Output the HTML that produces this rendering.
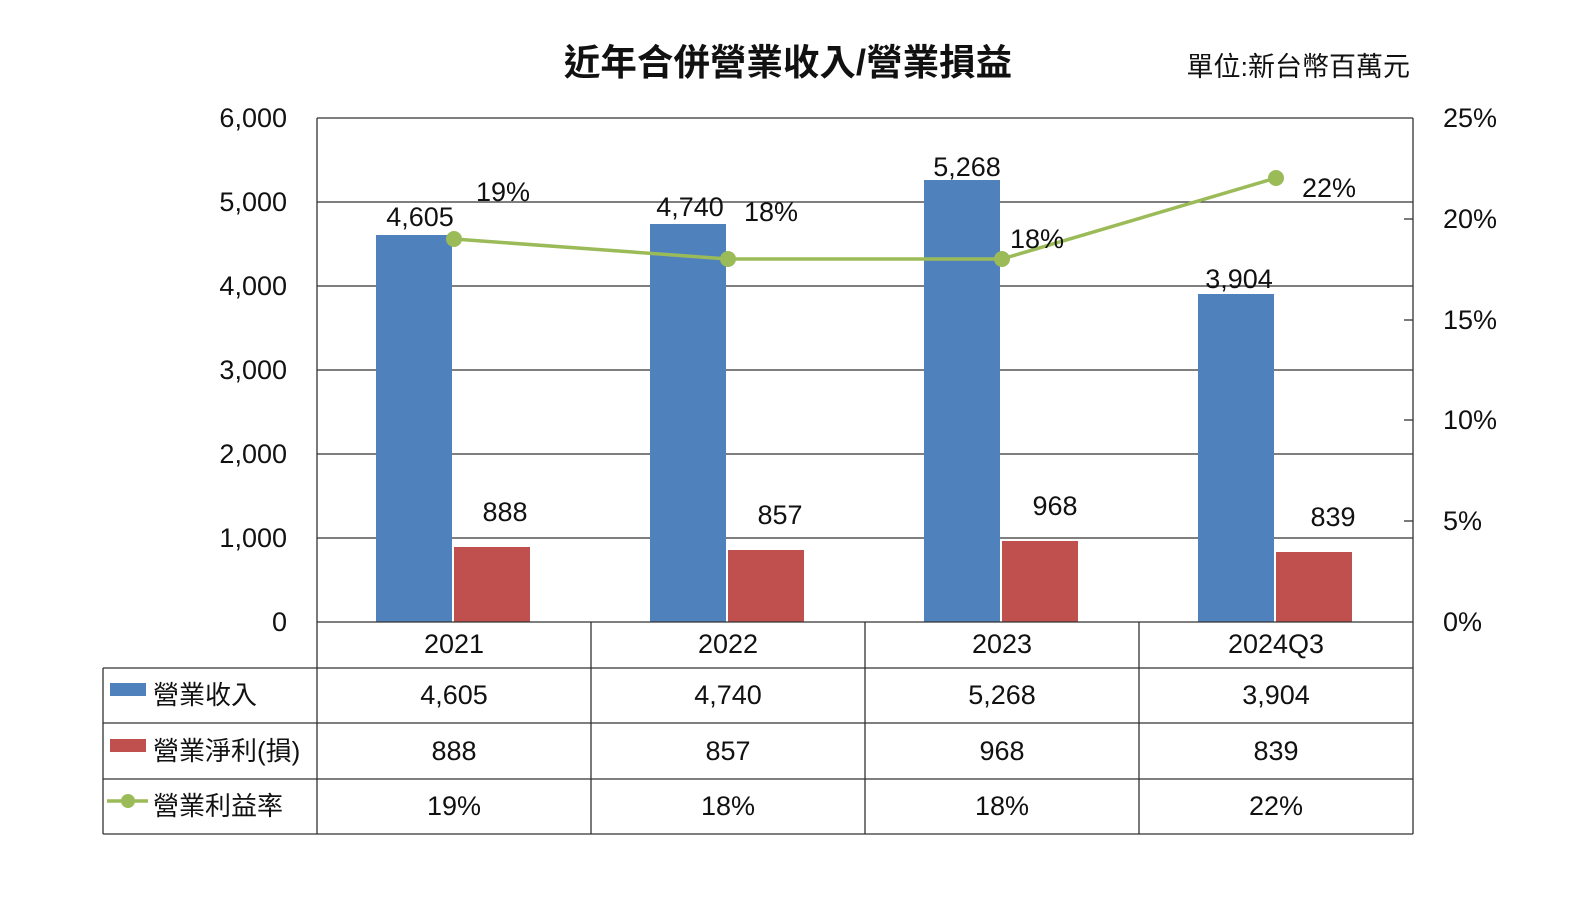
<!DOCTYPE html>
<html><head><meta charset="utf-8"><style>
body{margin:0;background:#fff;}
svg text{font-family:"Liberation Sans","Noto Sans CJK TC",sans-serif;fill:#111;}
</style></head><body>
<svg width="1587" height="907" viewBox="0 0 1587 907" xmlns="http://www.w3.org/2000/svg">
<text x="788" y="75" font-size="36.5" font-weight="bold" text-anchor="middle">近年合併營業收入/營業損益</text>
<text x="1410" y="76" font-size="27" text-anchor="end">單位:新台幣百萬元</text>
<g stroke="#333" stroke-width="1.3">
<line x1="317" y1="118" x2="1413" y2="118"/>
<line x1="317" y1="202" x2="1413" y2="202"/>
<line x1="317" y1="286" x2="1413" y2="286"/>
<line x1="317" y1="370" x2="1413" y2="370"/>
<line x1="317" y1="454" x2="1413" y2="454"/>
<line x1="317" y1="538" x2="1413" y2="538"/>
<line x1="317" y1="118" x2="317" y2="834"/>
<line x1="1413" y1="118" x2="1413" y2="834"/>
<line x1="1404" y1="219" x2="1413" y2="219"/>
<line x1="1404" y1="320" x2="1413" y2="320"/>
<line x1="1404" y1="420" x2="1413" y2="420"/>
<line x1="1404" y1="521" x2="1413" y2="521"/>
</g>
<g font-size="27" text-anchor="end">
<text x="287" y="127">6,000</text><text x="287" y="211">5,000</text><text x="287" y="295">4,000</text>
<text x="287" y="379">3,000</text><text x="287" y="463">2,000</text><text x="287" y="547">1,000</text><text x="287" y="631">0</text>
</g>
<g font-size="27">
<text x="1443" y="127">25%</text><text x="1443" y="228">20%</text><text x="1443" y="329">15%</text>
<text x="1443" y="429">10%</text><text x="1443" y="530">5%</text><text x="1443" y="631">0%</text>
</g>
<g fill="#4f81bd">
<rect x="376" y="235" width="76" height="387"/>
<rect x="650" y="224" width="76" height="398"/>
<rect x="924" y="180" width="76" height="442"/>
<rect x="1198" y="294" width="76" height="328"/>
</g>
<g fill="#c0504d">
<rect x="454" y="547" width="76" height="75"/>
<rect x="728" y="550" width="76" height="72"/>
<rect x="1002" y="541" width="76" height="81"/>
<rect x="1276" y="552" width="76" height="70"/>
</g>
<polyline points="454,239 728,259 1002,259 1276,178" fill="none" stroke="#9bbb59" stroke-width="3.5"/>
<g fill="#9bbb59"><circle cx="454" cy="239" r="8"/><circle cx="728" cy="259" r="8"/><circle cx="1002" cy="259" r="8"/><circle cx="1276" cy="178" r="8"/></g>
<g font-size="27" text-anchor="middle">
<text x="420" y="226">4,605</text><text x="690" y="216">4,740</text><text x="967" y="176">5,268</text><text x="1239" y="288">3,904</text>
<text x="505" y="521">888</text><text x="780" y="524">857</text><text x="1055" y="515">968</text><text x="1333" y="526">839</text>
<text x="503" y="201">19%</text><text x="771" y="221">18%</text><text x="1037" y="248">18%</text><text x="1329" y="197">22%</text>
</g>
<g stroke="#333" stroke-width="1.3" fill="none">
<line x1="317" y1="622" x2="1413" y2="622"/>
<line x1="103" y1="668" x2="1413" y2="668"/>
<line x1="103" y1="723" x2="1413" y2="723"/>
<line x1="103" y1="779" x2="1413" y2="779"/>
<line x1="103" y1="834" x2="1413" y2="834"/>
<line x1="103" y1="668" x2="103" y2="834"/>
<line x1="591" y1="622" x2="591" y2="834"/>
<line x1="865" y1="622" x2="865" y2="834"/>
<line x1="1139" y1="622" x2="1139" y2="834"/>
</g>
<g font-size="27" text-anchor="middle">
<text x="454" y="653">2021</text><text x="728" y="653">2022</text><text x="1002" y="653">2023</text><text x="1276" y="653">2024Q3</text>
<text x="454" y="704">4,605</text><text x="728" y="704">4,740</text><text x="1002" y="704">5,268</text><text x="1276" y="704">3,904</text>
<text x="454" y="760">888</text><text x="728" y="760">857</text><text x="1002" y="760">968</text><text x="1276" y="760">839</text>
<text x="454" y="815">19%</text><text x="728" y="815">18%</text><text x="1002" y="815">18%</text><text x="1276" y="815">22%</text>
</g>
<rect x="110" y="683" width="36" height="13" fill="#4f81bd"/>
<rect x="110" y="739" width="36" height="13" fill="#c0504d"/>
<line x1="107" y1="801" x2="148" y2="801" stroke="#9bbb59" stroke-width="3.5"/>
<circle cx="128" cy="801" r="7" fill="#9bbb59"/>
<g font-size="26">
<text x="153" y="704">營業收入</text>
<text x="153" y="760">營業淨利(損)</text>
<text x="153" y="815">營業利益率</text>
</g>
</svg>
</body></html>
